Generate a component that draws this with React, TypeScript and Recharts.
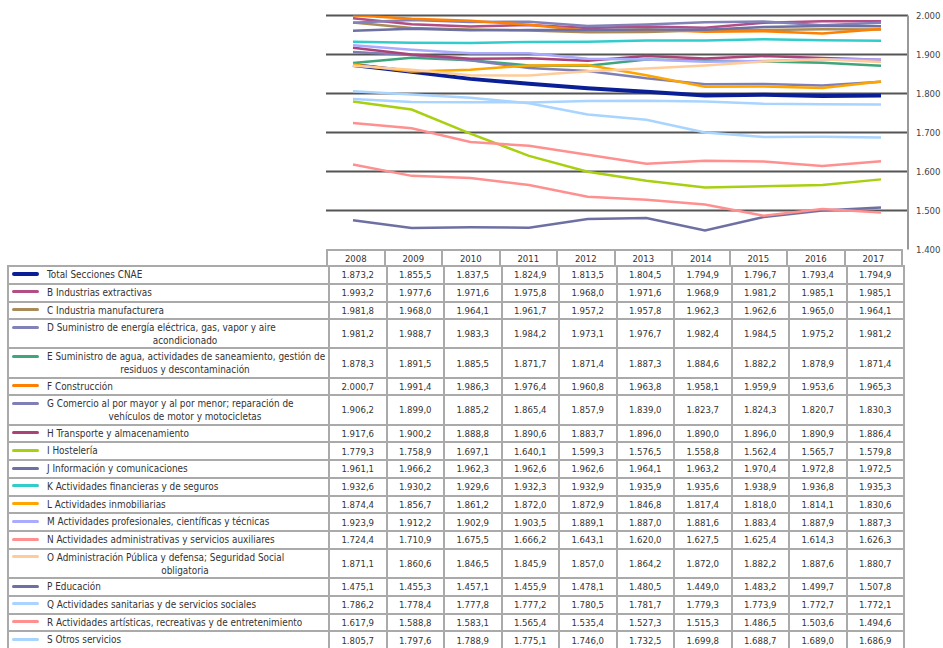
import { LineChart, Line, XAxis, YAxis, CartesianGrid } from 'recharts';

// Salario medio por sección de actividad (CNAE), 2008-2017
const YEARS = ['2008', '2009', '2010', '2011', '2012', '2013', '2014', '2015', '2016', '2017'];

const TOTAL = [1873.2, 1855.5, 1837.5, 1824.9, 1813.5, 1804.5, 1794.9, 1796.7, 1793.4, 1794.9];
const B_EXTRACTIVAS = [1993.2, 1977.6, 1971.6, 1975.8, 1968.0, 1971.6, 1968.9, 1981.2, 1985.1, 1985.1];
const C_MANUFACTURERA = [1981.8, 1968.0, 1964.1, 1961.7, 1957.2, 1957.8, 1962.3, 1962.6, 1965.0, 1964.1];
const D_ENERGIA = [1981.2, 1988.7, 1983.3, 1984.2, 1973.1, 1976.7, 1982.4, 1984.5, 1975.2, 1981.2];
const E_AGUA = [1878.3, 1891.5, 1885.5, 1871.7, 1871.4, 1887.3, 1884.6, 1882.2, 1878.9, 1871.4];
const F_CONSTRUCCION = [2000.7, 1991.4, 1986.3, 1976.4, 1960.8, 1963.8, 1958.1, 1959.9, 1953.6, 1965.3];
const G_COMERCIO = [1906.2, 1899.0, 1885.2, 1865.4, 1857.9, 1839.0, 1823.7, 1824.3, 1820.7, 1830.3];
const H_TRANSPORTE = [1917.6, 1900.2, 1888.8, 1890.6, 1883.7, 1896.0, 1890.0, 1896.0, 1890.9, 1886.4];
const I_HOSTELERIA = [1779.3, 1758.9, 1697.1, 1640.1, 1599.3, 1576.5, 1558.8, 1562.4, 1565.7, 1579.8];
const J_INFORMACION = [1961.1, 1966.2, 1962.3, 1962.6, 1962.6, 1964.1, 1963.2, 1970.4, 1972.8, 1972.5];
const K_FINANCIERAS = [1932.6, 1930.2, 1929.6, 1932.3, 1932.9, 1935.9, 1935.6, 1938.9, 1936.8, 1935.3];
const L_INMOBILIARIAS = [1874.4, 1856.7, 1861.2, 1872.0, 1872.9, 1846.8, 1817.4, 1818.0, 1814.1, 1830.6];
const M_PROFESIONALES = [1923.9, 1912.2, 1902.9, 1903.5, 1889.1, 1887.0, 1881.6, 1883.4, 1887.9, 1887.3];
const N_ADMINISTRATIVAS = [1724.4, 1710.9, 1675.5, 1666.2, 1643.1, 1620.0, 1627.5, 1625.4, 1614.3, 1626.3];
const O_ADMIN_PUBLICA = [1871.1, 1860.6, 1846.5, 1845.9, 1857.0, 1864.2, 1872.0, 1882.2, 1887.6, 1880.7];
const P_EDUCACION = [1475.1, 1455.3, 1457.1, 1455.9, 1478.1, 1480.5, 1449.0, 1483.2, 1499.7, 1507.8];
const Q_SANITARIAS = [1786.2, 1778.4, 1777.8, 1777.2, 1780.5, 1781.7, 1779.3, 1773.9, 1772.7, 1772.1];
const R_ARTISTICAS = [1617.9, 1588.8, 1583.1, 1565.4, 1535.4, 1527.3, 1515.3, 1486.5, 1503.6, 1494.6];
const S_OTROS = [1805.7, 1797.6, 1788.9, 1775.1, 1746.0, 1732.5, 1699.8, 1688.7, 1689.0, 1686.9];

const Y_TICKS = [1400, 1500, 1600, 1700, 1800, 1900, 2000];
const GRID_VALUES = [1500, 1600, 1700, 1800, 1900, 2000];

type Serie = { key: string; label: string[]; values: number[]; color: string; width: number };

const SERIES: Serie[] = [
  { key: 'total', label: ['Total Secciones CNAE'], values: TOTAL, color: '#0a1f96', width: 4 },
  { key: 'b', label: ['B Industrias extractivas'], values: B_EXTRACTIVAS, color: '#b24d86', width: 2.5 },
  { key: 'c', label: ['C Industria manufacturera'], values: C_MANUFACTURERA, color: '#a88b58', width: 2.5 },
  { key: 'd', label: ['D Suministro de energía eléctrica, gas, vapor y aire', 'acondicionado'], values: D_ENERGIA, color: '#8282b8', width: 2.5 },
  { key: 'e', label: ['E Suministro de agua, actividades de saneamiento, gestión de', 'residuos y descontaminación'], values: E_AGUA, color: '#3fa67c', width: 2.5 },
  { key: 'f', label: ['F Construcción'], values: F_CONSTRUCCION, color: '#ff8000', width: 2.5 },
  { key: 'g', label: ['G Comercio al por mayor y al por menor; reparación de', 'vehículos de motor y motocicletas'], values: G_COMERCIO, color: '#7f7fb5', width: 2.5 },
  { key: 'h', label: ['H Transporte y almacenamiento'], values: H_TRANSPORTE, color: '#ab4379', width: 2.5 },
  { key: 'i', label: ['I Hostelería'], values: I_HOSTELERIA, color: '#a8d010', width: 2.5 },
  { key: 'j', label: ['J Información y comunicaciones'], values: J_INFORMACION, color: '#6c70a2', width: 2.5 },
  { key: 'k', label: ['K Actividades financieras y de seguros'], values: K_FINANCIERAS, color: '#33cccc', width: 2.5 },
  { key: 'l', label: ['L Actividades inmobiliarias'], values: L_INMOBILIARIAS, color: '#ffa500', width: 2.5 },
  { key: 'm', label: ['M Actividades profesionales, científicas y técnicas'], values: M_PROFESIONALES, color: '#aaaaff', width: 2.5 },
  { key: 'n', label: ['N Actividades administrativas y servicios auxiliares'], values: N_ADMINISTRATIVAS, color: '#ff9090', width: 2.5 },
  { key: 'o', label: ['O Administración Pública y defensa; Seguridad Social', 'obligatoria'], values: O_ADMIN_PUBLICA, color: '#ffcc99', width: 2.5 },
  { key: 'p', label: ['P Educación'], values: P_EDUCACION, color: '#6e70a4', width: 2.5 },
  { key: 'q', label: ['Q Actividades sanitarias y de servicios sociales'], values: Q_SANITARIAS, color: '#a8d4ff', width: 2.5 },
  { key: 'r', label: ['R Actividades artísticas, recreativas y de entretenimiento'], values: R_ARTISTICAS, color: '#ff9090', width: 2.5 },
  { key: 's', label: ['S Otros servicios'], values: S_OTROS, color: '#a8d4ff', width: 2.5 },
];

const chartData = YEARS.map((year, i) => {
  const row: Record<string, string | number> = { year };
  SERIES.forEach((s) => { row[s.key] = s.values[i]; });
  return row;
});

// 1873.2 -> "1.873,2"
const groupThousands = (n: number) => String(n).replace(/\B(?=(\d{3})+(?!\d))/g, '.');
const fmtValue = (v: number) => {
  const [int, dec] = v.toFixed(1).split('.');
  return `${groupThousands(Number(int))},${dec}`;
};
const fmtTick = (v: number) => groupThousands(v);

const FONT = '"Liberation Sans Narrow", "DejaVu Sans Condensed", Roboto, sans-serif';
const BORDER = '2px solid #aaa';
const TABLE_LEFT = 7;
const LABEL_W = 319;
const COL_W = 57.5;
const HEADER_TOP = 249;
const HEADER_H = 16;
const ROW_H = 17.75;
const ROW_H2 = 29.2;

function DataTable() {
  let y = HEADER_TOP + HEADER_H;
  const rows = SERIES.map((s) => {
    const h = s.label.length > 1 ? ROW_H2 : ROW_H;
    const top = y;
    y += h;
    return (
      <div key={s.key} style={{ position: 'absolute', left: TABLE_LEFT, top, height: h, display: 'flex', boxSizing: 'border-box', borderTop: BORDER, borderLeft: BORDER }}>
        <div style={{ position: 'relative', width: LABEL_W, height: '100%', boxSizing: 'border-box' }}>
          <div style={{ position: 'absolute', left: 3, top: 5.5, width: 27, height: s.width === 4 ? 4 : 3, borderRadius: 2, background: s.color, marginTop: s.width === 4 ? -0.5 : 0 }} />
          <div style={{ position: 'absolute', left: 38, top: 1, width: 276, fontSize: 9.9, lineHeight: '13px', color: '#333', whiteSpace: 'nowrap' }}>
            <div>{s.label[0]}</div>
            {s.label[1] && <div style={{ textAlign: 'center' }}>{s.label[1]}</div>}
          </div>
        </div>
        {s.values.map((v, i) => (
          <div key={i} style={{ width: COL_W, height: '100%', boxSizing: 'border-box', borderLeft: BORDER, display: 'flex', alignItems: 'center', justifyContent: 'center', fontSize: 9.5, color: '#333' }}>
            {fmtValue(v)}
          </div>
        ))}
        <div style={{ width: 0, height: '100%', borderLeft: BORDER }} />
      </div>
    );
  });

  return (
    <div style={{ position: 'absolute', left: 0, top: 0, width: 943, height: 648, fontFamily: FONT }}>
      <div style={{ position: 'absolute', left: TABLE_LEFT + LABEL_W, top: HEADER_TOP, height: HEADER_H, display: 'flex', boxSizing: 'border-box', borderTop: BORDER }}>
        {YEARS.map((yr) => (
          <div key={yr} style={{ width: COL_W, height: '100%', boxSizing: 'border-box', borderLeft: BORDER, display: 'flex', alignItems: 'center', justifyContent: 'center', fontSize: 9.5, color: '#333' }}>
            {yr}
          </div>
        ))}
        <div style={{ width: 0, height: '100%', borderLeft: BORDER }} />
      </div>
      {rows}
    </div>
  );
}

export default function App() {
  return (
    <div style={{ position: 'absolute', left: 0, top: 0, width: 943, height: 648, background: '#fff', overflow: 'hidden' }}>
      <LineChart width={943} height={262} data={chartData} margin={{ top: 15.5, right: 0, left: 326, bottom: 12.5 }}>
        <CartesianGrid vertical={false} horizontalValues={GRID_VALUES} stroke="#555" strokeWidth={2} />
        <XAxis dataKey="year" hide padding={{ left: 27, right: 27 }} />
        <YAxis
          orientation="right"
          width={35}
          domain={[1400, 2000]}
          ticks={Y_TICKS}
          allowDataOverflow
          tickFormatter={fmtTick}
          tickLine={false}
          axisLine={{ stroke: '#999', strokeWidth: 2 }}
          tick={{ fontSize: 9.5, fill: '#444', fontFamily: FONT }}
        />
        {SERIES.map((s) => (
          <Line
            key={s.key}
            dataKey={s.key}
            stroke={s.color}
            strokeWidth={s.width}
            dot={false}
            activeDot={false}
            isAnimationActive={false}
          />
        ))}
      </LineChart>
      <DataTable />
    </div>
  );
}
